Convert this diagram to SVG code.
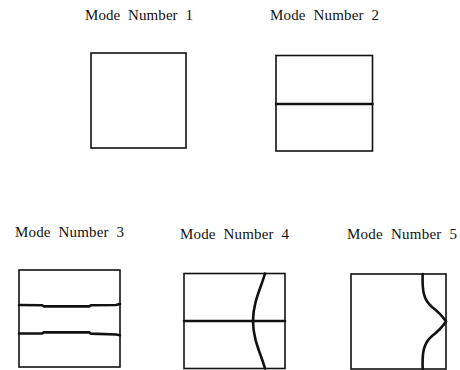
<svg xmlns="http://www.w3.org/2000/svg" width="460" height="370" viewBox="0 0 460 370">
<style>
.t{font-family:"Liberation Serif","Times New Roman",serif;font-size:15px;fill:#111;word-spacing:4px}
.b{fill:none;stroke:#111;stroke-width:1.6}
.m{fill:none;stroke:#111;stroke-width:2.6;stroke-linecap:round}
</style>
<rect width="460" height="370" fill="#fff"/>
<g id="mode1">
<text class="t" x="85" y="20" textLength="108">Mode Number 1</text>
<rect class="b" x="91" y="53" width="95" height="95"/>
</g>
<g id="mode2">
<text class="t" x="270" y="20" textLength="109">Mode Number 2</text>
<rect class="b" x="276" y="55.5" width="96.5" height="95.5"/>
<path class="m" d="M276,104 H372.5"/>
</g>
<g id="mode3">
<text class="t" x="15" y="237" textLength="109">Mode Number 3</text>
<rect class="b" x="19" y="270" width="101" height="97"/>
<path class="m" d="M19,305 L42,305.2 L44,306.4 L89,306.4 L91,305.2 L116,305 L120,304"/>
<path class="m" d="M19,333.5 L42,333.4 L44,332.4 L89,332.4 L91,333.6 L116,334.5 L120,335.2"/>
</g>
<g id="mode4">
<text class="t" x="180" y="239" textLength="109">Mode Number 4</text>
<rect class="b" x="184" y="273.5" width="101" height="95"/>
<path class="m" d="M184,321 H285"/>
<path class="m" d="M265,273.5 C261,288 253,302 253,321 C253,340 261,354 265,368.5"/>
</g>
<g id="mode5">
<text class="t" x="347" y="239" textLength="110">Mode Number 5</text>
<rect class="b" x="351" y="274" width="95" height="95"/>
<path class="m" d="M422.7,274 C422,292 424,300 432,307 C440,313 443,317 446,321.5 C443,326 440,330 432,336 C424,343 422,351 422.7,369"/>
</g>
</svg>
